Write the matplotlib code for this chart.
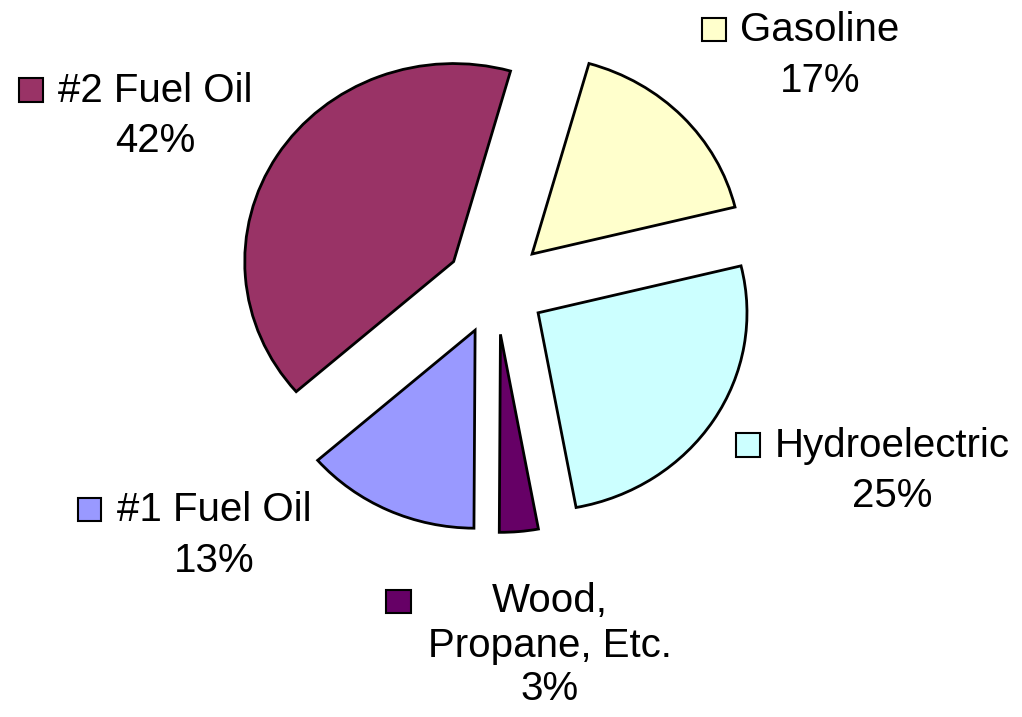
import matplotlib
matplotlib.use("Agg")
import matplotlib.pyplot as plt
from matplotlib.patches import Rectangle

# slice shares (clockwise from top), as drawn
categories = ["Gasoline", "Hydroelectric", "Wood, Propane, Etc.", "#1 Fuel Oil", "#2 Fuel Oil"]
shares = [16.8, 25.9, 3.0, 13.5, 40.8]
pct_labels = ["17%", "25%", "3%", "13%", "42%"]
colors = ["#FFFFCC", "#CCFFFF", "#660066", "#9999FF", "#993366"]

W, H = 1022, 717
XSTRETCH = 1.055  # the original pie is slightly wider than tall
R = 198

plt.rcParams['font.family'] = ['Liberation Sans', 'DejaVu Sans']

fig = plt.figure(figsize=(W / 100, H / 100), dpi=100)
ax = fig.add_axes([0, 0, 1, 1])

cx, cy = 496 / XSTRETCH, H - 287
# explode is in data units here (pie does not scale it by radius)
ax.pie(shares, colors=colors, startangle=74.2, counterclock=False,
       radius=R, center=(cx, cy), explode=[0.24 * R] * len(shares),
       wedgeprops=dict(edgecolor="black", linewidth=2))
ax.set_aspect("auto")
ax.set_xlim(0, W / XSTRETCH)
ax.set_ylim(0, H)
ax.axis("off")


def fx(x):
    return x / W


def fy(y):
    return 1 - y / H


def label(lines, cx_px, baselines, key_box, color):
    for txt, yb in zip(lines, baselines):
        fig.text(fx(cx_px), fy(yb), txt, ha="center", va="baseline", fontsize=29)
    x0, y0, x1, y1 = key_box
    fig.patches.append(Rectangle((fx(x0), fy(y1)), (x1 - x0) / W, (y1 - y0) / H,
                                 transform=fig.transFigure, facecolor=color,
                                 edgecolor="black", linewidth=1.5))


label(["Gasoline", pct_labels[0]], 820, [41, 92], (702, 18, 726, 41), colors[0])
label(["Hydroelectric", pct_labels[1]], 892, [457, 507], (736, 433, 760, 457), colors[1])
label(["Wood,", "Propane, Etc.", pct_labels[2]], 550, [612, 657, 700], (386, 590, 411, 613), colors[2])
label(["#1 Fuel Oil", pct_labels[3]], 214, [521, 572], (78, 498, 101, 521), colors[3])
label(["#2 Fuel Oil", pct_labels[4]], 155, [102, 152], (19, 78, 43, 102), colors[4])

fig.savefig("out.png", dpi=100)
